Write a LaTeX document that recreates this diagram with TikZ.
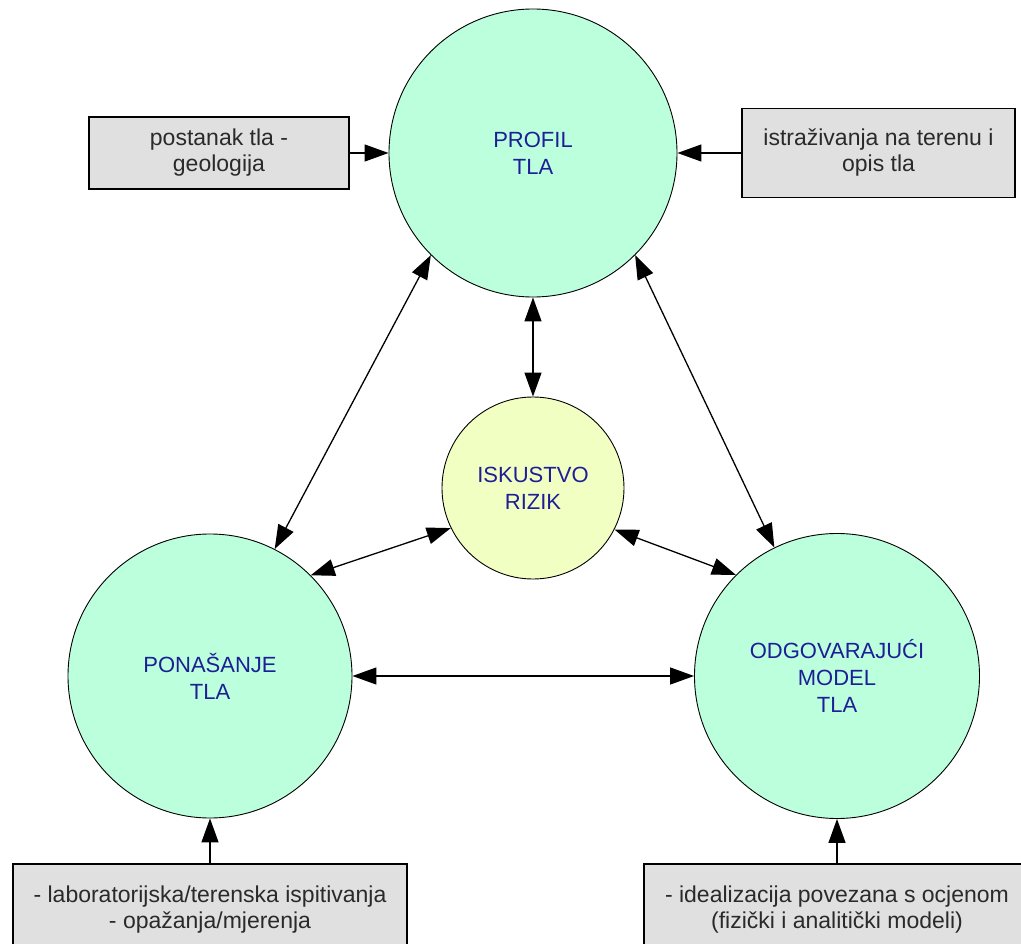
\documentclass[tikz,border=0pt]{standalone}
\usepackage{fontspec}
\setmainfont{Liberation Sans}
\usetikzlibrary{arrows.meta}
\definecolor{mint}{HTML}{BBFFDD}
\definecolor{paleyellow}{HTML}{F2FFC2}
\definecolor{boxgray}{HTML}{E0E0E0}
\definecolor{navytext}{HTML}{1E1E96}
\definecolor{boxtext}{HTML}{2A2A2A}
\tikzset{
  bigcircle/.style={circle, draw=black, line width=0.9pt, fill=mint, inner sep=0pt,
    align=center, text=navytext, font=\fontsize{22}{27}\selectfont},
  midcircle/.style={bigcircle, fill=paleyellow},
  infobox/.style={rectangle, draw=black, line width=1.5pt, fill=boxgray, inner sep=0pt,
    align=center, text=boxtext, font=\fontsize{23}{26}\selectfont},
  conn/.style={line width=1.3pt, draw=black, -{Triangle[length=24pt,width=17pt]}},
  biconn/.style={line width=1.3pt, draw=black, {Triangle[length=24pt,width=17pt]}-{Triangle[length=24pt,width=17pt]}}
}
\begin{document}
\begin{tikzpicture}[x=1pt,y=-1pt]
\useasboundingbox (0,0) rectangle (1021,944);
\fill[white] (0,0) rectangle (1021,944);
\clip (0,0) rectangle (1021,944);

\node[bigcircle, minimum size=288pt] (profil) at (533,153) {PROFIL\\TLA};
\node[midcircle, minimum size=182pt] (isk) at (533,488) {ISKUSTVO\\RIZIK};
\node[bigcircle, minimum size=284pt] (pon) at (210,676) {PONAŠANJE\\TLA};
\node[bigcircle, minimum size=285pt] (odg) at (837,676) {ODGOVARAJUĆI\\MODEL\\TLA};

\node[infobox, minimum width=260pt, minimum height=72pt] (tl) at (219,153) {postanak tla -\\geologija};
\node[infobox, minimum width=273pt, minimum height=89pt] (tr) at (878.5,153) {istraživanja na terenu i\\opis tla};
\node[infobox, minimum width=394pt, minimum height=92pt] (bl) at (210,910) {- laboratorijska/terenska ispitivanja\\- opažanja/mjerenja};
\node[infobox, minimum width=386pt, minimum height=92pt] (br) at (837,910) {- idealizacija povezana s ocjenom\\(fizički i analitički modeli)};

\draw[conn] (tl.east) -- (profil.west);
\draw[conn] (tr.west) -- (profil.east);
\draw[conn] (bl.north) -- (pon.south);
\draw[conn] (br.north) -- (odg.south);

\draw[biconn] (profil.south) -- (isk.north);
\draw[biconn] (profil.225.6) -- (pon.63.8);
\draw[biconn] (profil.315) -- (odg.116.4);
\draw[biconn] (isk.206.8) -- (pon.45.3);
\draw[biconn] (isk.333.4) -- (odg.135.3);
\draw[biconn] (pon.east) -- (odg.west);
\end{tikzpicture}
\end{document}
